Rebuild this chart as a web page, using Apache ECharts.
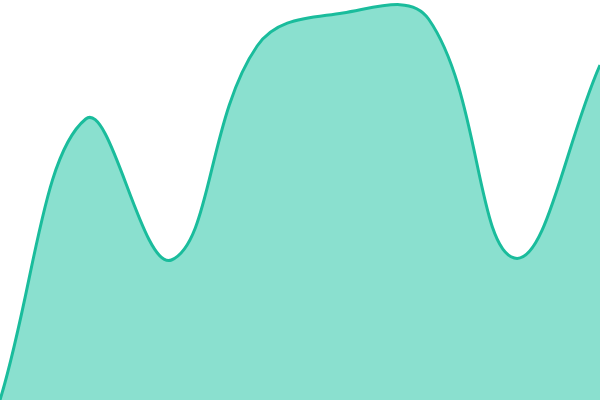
<!DOCTYPE html>
<html>
<head>
<meta charset="utf-8">
<script src="https://cdn.jsdelivr.net/npm/echarts@6/dist/echarts.min.js"></script>
<style>
  html, body { margin: 0; padding: 0; background: #fff; }
  #chart { width: 600px; height: 400px; }
</style>
</head>
<body>
<div id="chart"></div>
<script>
// smooth area, no axes, fills the whole frame
const categories = ['1', '2', '3', '4', '5', '6', '7', '8']
const values = [0, 281, 140, 354, 387, 381, 142, 335]

const SMOOTH = 0.4
const LINE_COLOR = '#1abc9c'
const AREA_COLOR = '#8ae0cf'

// unclamped bezier smoothing, the line overshoots between points
// like the reference does; the points themselves come from api.coord
function smoothPath(pts) {
  const cps = pts.map(function (p, i) {
    const prev = pts[i - 1] || p
    const next = pts[i + 1] || p
    const vx = (next[0] - prev[0]) * SMOOTH
    const vy = (next[1] - prev[1]) * SMOOTH
    let d0 = Math.hypot(p[0] - prev[0], p[1] - prev[1])
    let d1 = Math.hypot(p[0] - next[0], p[1] - next[1])
    const sum = d0 + d1
    if (sum) { d0 /= sum; d1 /= sum }
    return {
      inX: p[0] - vx * d0, inY: p[1] - vy * d0,
      outX: p[0] + vx * d1, outY: p[1] + vy * d1
    }
  })
  let d = 'M' + pts[0][0] + ' ' + pts[0][1]
  for (let i = 0; i < pts.length - 1; i++) {
    d += ' C' + cps[i].outX + ' ' + cps[i].outY + ' ' +
      cps[i + 1].inX + ' ' + cps[i + 1].inY + ' ' +
      pts[i + 1][0] + ' ' + pts[i + 1][1]
  }
  return d
}

const chart = echarts.init(document.getElementById('chart'))
chart.setOption({
  animation: false,
  grid: { left: 0, right: 0, top: 0, bottom: 0 },
  xAxis: { type: 'category', data: categories, boundaryGap: false, show: false },
  yAxis: { type: 'value', min: 0, max: 400, show: false },
  series: [{
    type: 'custom',
    coordinateSystem: 'cartesian2d',
    data: values.map(function (v, i) { return [i, v] }),
    renderItem: function (params, api) {
      if (params.dataIndex !== 0) return
      const pts = values.map(function (v, i) { return api.coord([i, v]) })
      const base = api.coord([0, 0])[1]
      const line = smoothPath(pts)
      const last = pts[pts.length - 1]
      const area = line + ' L' + last[0] + ' ' + base + ' L' + pts[0][0] + ' ' + base + ' Z'
      return {
        type: 'group',
        children: [
          { type: 'path', shape: { pathData: area }, style: { fill: AREA_COLOR } },
          { type: 'path', shape: { pathData: line }, style: { fill: null, stroke: LINE_COLOR, lineWidth: 3 } }
        ]
      }
    }
  }]
})
</script>
</body>
</html>
